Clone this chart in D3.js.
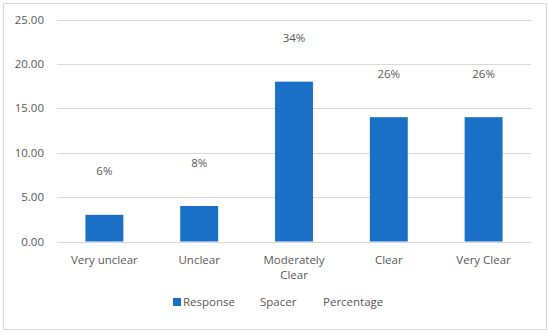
<!DOCTYPE html>
<html>
<head>
<meta charset="utf-8">
<script src="https://cdn.jsdelivr.net/npm/d3@7"></script>
<style>
  body { margin: 0; background: #fff; }
  text { font-family: "Open Sans", sans-serif; fill: #595959; }
</style>
</head>
<body>
<script>
var categories = ["Very unclear", "Unclear", "Moderately Clear", "Clear", "Very Clear"];
var response = [3, 4, 18, 14, 14];
var spacer = [5, 5, 5, 5, 5];
var percentage = ["6%", "8%", "34%", "26%", "26%"];
var yTicks = [0, 5, 10, 15, 20, 25];
var legendNames = ["Response", "Spacer", "Percentage"];

function init() {
    var w = 550;
    var h = 333;
    var barColor = "#1a6fc7";

    var svg = d3.select("body").append("svg").attr("width", w).attr("height", h);

    svg.append("rect")
        .attr("x", 3.5).attr("y", 3.5)
        .attr("width", 543).attr("height", 326)
        .attr("fill", "#fff")
        .attr("stroke", "#d9d9d9");

    var x = d3.scaleBand().domain(categories).range([57, 531]).paddingInner(0.6).paddingOuter(0.3);
    var y = d3.scaleLinear().domain([0, 25]).range([241.5, 19.5]);

    // gridlines
    svg.append("g").selectAll("line")
        .data(yTicks)
        .enter()
        .append("line")
        .attr("x1", 57).attr("x2", 531)
        .attr("y1", function (d) { return Math.round(y(d)) + 0.5; })
        .attr("y2", function (d) { return Math.round(y(d)) + 0.5; })
        .attr("stroke", "#d9d9d9");

    // y labels
    svg.append("g").selectAll("text")
        .data(yTicks)
        .enter()
        .append("text")
        .attr("x", 44)
        .attr("y", function (d) { return y(d); })
        .attr("dy", "0.35em")
        .attr("text-anchor", "end")
        .style("font-size", "11.5px")
        .text(function (d) { return d3.format(".2f")(d); });

    // bars
    svg.append("g").selectAll("rect")
        .data(response)
        .enter()
        .append("rect")
        .attr("x", function (d, i) { return x(categories[i]); })
        .attr("width", x.bandwidth())
        .attr("y", function (d) { return y(d); })
        .attr("height", function (d) { return y(0) - y(d); })
        .attr("fill", barColor);

    // percentage labels on top of invisible spacer
    svg.append("g").selectAll("text")
        .data(percentage)
        .enter()
        .append("text")
        .attr("x", function (d, i) { return x(categories[i]) + x.bandwidth() / 2; })
        .attr("y", function (d, i) { return y(response[i] + spacer[i]) + 1; })
        .attr("dy", "0.35em")
        .attr("text-anchor", "middle")
        .style("font-size", "11.5px")
        .text(function (d) { return d; });

    // category labels
    var catLabels = svg.append("g").selectAll("text")
        .data(categories)
        .enter()
        .append("text")
        .attr("x", function (d) { return x(d) + x.bandwidth() / 2; })
        .attr("y", 260)
        .attr("text-anchor", "middle")
        .style("font-size", "11.5px");
    catLabels.each(function (d) {
        var parts = d == "Moderately Clear" ? ["Moderately", "Clear"] : [d];
        var t = d3.select(this);
        parts.forEach(function (p, k) {
            t.append("tspan")
                .attr("x", x(d) + x.bandwidth() / 2)
                .attr("dy", k == 0 ? "0.35em" : "15px")
                .text(p);
        });
    });

    // legend
    var legendX = [183, 260, 323];
    svg.append("rect")
        .attr("x", 173).attr("y", 298)
        .attr("width", 8).attr("height", 8)
        .attr("fill", barColor);
    svg.append("g").selectAll("text")
        .data(legendNames)
        .enter()
        .append("text")
        .attr("x", function (d, i) { return legendX[i]; })
        .attr("y", 302)
        .attr("dy", "0.35em")
        .style("font-size", "11.5px")
        .text(function (d) { return d; });
}

window.onload = init;
</script>
</body>
</html>
